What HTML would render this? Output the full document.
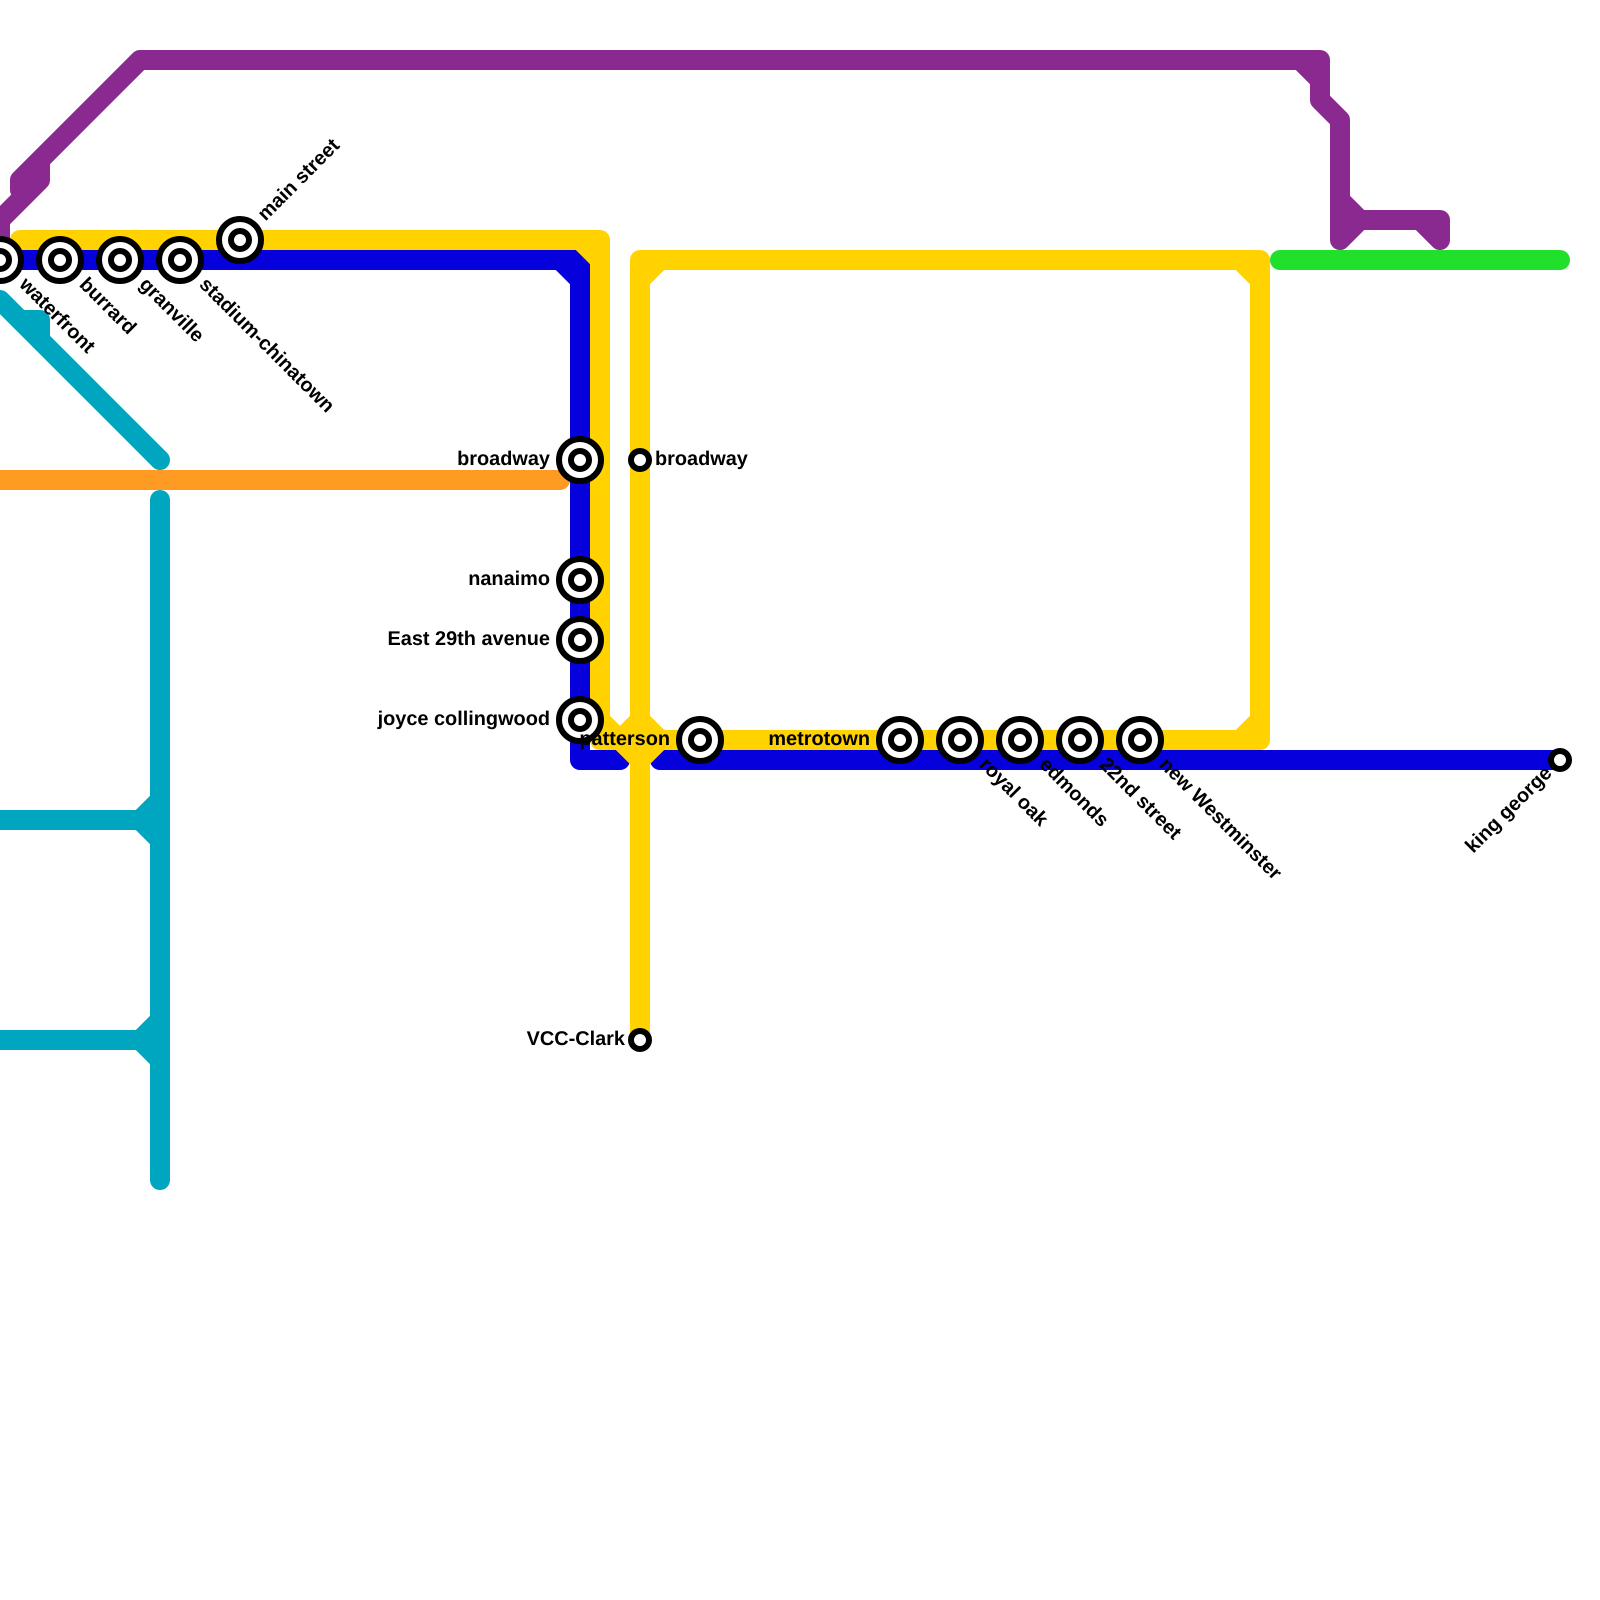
<!DOCTYPE html>
<html>
<head>
<meta charset="utf-8">
<style>
html,body{margin:0;padding:0;background:#fff}
svg{display:block}
.l{fill:none;stroke-width:20;stroke-linecap:round;stroke-linejoin:round}
text{font-family:"Liberation Sans",sans-serif;font-weight:bold;font-size:19.9px;fill:#000;text-rendering:geometricPrecision}
.o{fill:#fff;stroke:#000;stroke-width:6}
</style>
</head>
<body>
<svg width="1600" height="1600" viewBox="0 0 1600 1600" xmlns="http://www.w3.org/2000/svg">
<rect width="1600" height="1600" fill="#fff"/>
<!-- orange -->
<path class="l" stroke="#ff9a22" d="M-20 480H560"/>
<!-- teal -->
<path class="l" stroke="#00a5bf" d="M0 300L160 460"/>
<path class="l" stroke="#00a5bf" d="M20 320H40V340"/>
<path class="l" stroke="#00a5bf" d="M160 500V1180"/>
<path class="l" stroke="#00a5bf" d="M-20 820H140L160 800M140 820L160 840"/>
<path class="l" stroke="#00a5bf" d="M-20 1040H140L160 1020M140 1040L160 1060"/>
<!-- purple -->
<path class="l" stroke="#8a2a91" d="M0 260V220L40 180V160M20 180L140 60H1320V100L1340 120V240L1360 220H1440V240L1420 220M1300 60L1320 80M1340 200L1360 220M20 180V190"/>
<!-- green -->
<path class="l" stroke="#20e02c" d="M1280 260H1560"/>
<!-- blue -->
<path class="l" stroke="#0600dd" d="M-20 260H580V760H620M560 260L580 280M660 760H1560"/>
<!-- yellow -->
<path class="l" stroke="#ffd200" d="M20 240H600V720L640 760V1040M580 240L600 260"/>
<path class="l" stroke="#ffd200" d="M600 740H1260V260H640V720L660 740M640 280L660 260M1240 260L1260 280M1240 740L1260 720M620 740L640 720M640 760L660 740"/>
<path fill="#ffd200" d="M640 720L660 740L640 760L620 740Z"/>
<!-- stations -->
<g>
<circle class="o" cx="0" cy="260" r="21"/><circle class="o" cx="0" cy="260" r="9"/>
<circle class="o" cx="60" cy="260" r="21"/><circle class="o" cx="60" cy="260" r="9"/>
<circle class="o" cx="120" cy="260" r="21"/><circle class="o" cx="120" cy="260" r="9"/>
<circle class="o" cx="180" cy="260" r="21"/><circle class="o" cx="180" cy="260" r="9"/>
<circle class="o" cx="240" cy="240" r="21"/><circle class="o" cx="240" cy="240" r="9"/>
<circle class="o" cx="580" cy="460" r="21"/><circle class="o" cx="580" cy="460" r="9"/>
<circle class="o" cx="580" cy="580" r="21"/><circle class="o" cx="580" cy="580" r="9"/>
<circle class="o" cx="580" cy="640" r="21"/><circle class="o" cx="580" cy="640" r="9"/>
<circle class="o" cx="580" cy="720" r="21"/><circle class="o" cx="580" cy="720" r="9"/>
<circle class="o" cx="700" cy="740" r="21"/><circle class="o" cx="700" cy="740" r="9"/>
<circle class="o" cx="900" cy="740" r="21"/><circle class="o" cx="900" cy="740" r="9"/>
<circle class="o" cx="960" cy="740" r="21"/><circle class="o" cx="960" cy="740" r="9"/>
<circle class="o" cx="1020" cy="740" r="21"/><circle class="o" cx="1020" cy="740" r="9"/>
<circle class="o" cx="1080" cy="740" r="21"/><circle class="o" cx="1080" cy="740" r="9"/>
<circle class="o" cx="1140" cy="740" r="21"/><circle class="o" cx="1140" cy="740" r="9"/>
<circle class="o" cx="640" cy="460" r="9"/>
<circle class="o" cx="640" cy="1040" r="9"/>
<circle class="o" cx="1560" cy="760" r="9"/>
</g>
<!-- labels -->
<text x="550" y="465" text-anchor="end">broadway</text>
<text x="550" y="585" text-anchor="end">nanaimo</text>
<text x="550" y="645" text-anchor="end">East 29th avenue</text>
<text x="550" y="725" text-anchor="end">joyce collingwood</text>
<text x="670" y="745" text-anchor="end">patterson</text>
<text x="870" y="745" text-anchor="end">metrotown</text>
<text x="655" y="465">broadway</text>
<text x="625" y="1045" text-anchor="end">VCC-Clark</text>
<text transform="translate(0 260) rotate(45)" x="31" y="5">waterfront</text>
<text transform="translate(60 260) rotate(45)" x="31" y="5">burrard</text>
<text transform="translate(120 260) rotate(45)" x="31" y="5">granville</text>
<text transform="translate(180 260) rotate(45)" x="31" y="5">stadium-chinatown</text>
<text transform="translate(240 240) rotate(-45)" x="31" y="5">main street</text>
<text transform="translate(960 740) rotate(45)" x="31" y="5">royal oak</text>
<text transform="translate(1020 740) rotate(45)" x="31" y="5">edmonds</text>
<text transform="translate(1080 740) rotate(45)" x="31" y="5">22nd street</text>
<text transform="translate(1140 740) rotate(45)" x="31" y="5">new Westminster</text>
<text transform="translate(1560 760) rotate(-45)" x="-15" y="5" text-anchor="end">king george</text>
</svg>
</body>
</html>
